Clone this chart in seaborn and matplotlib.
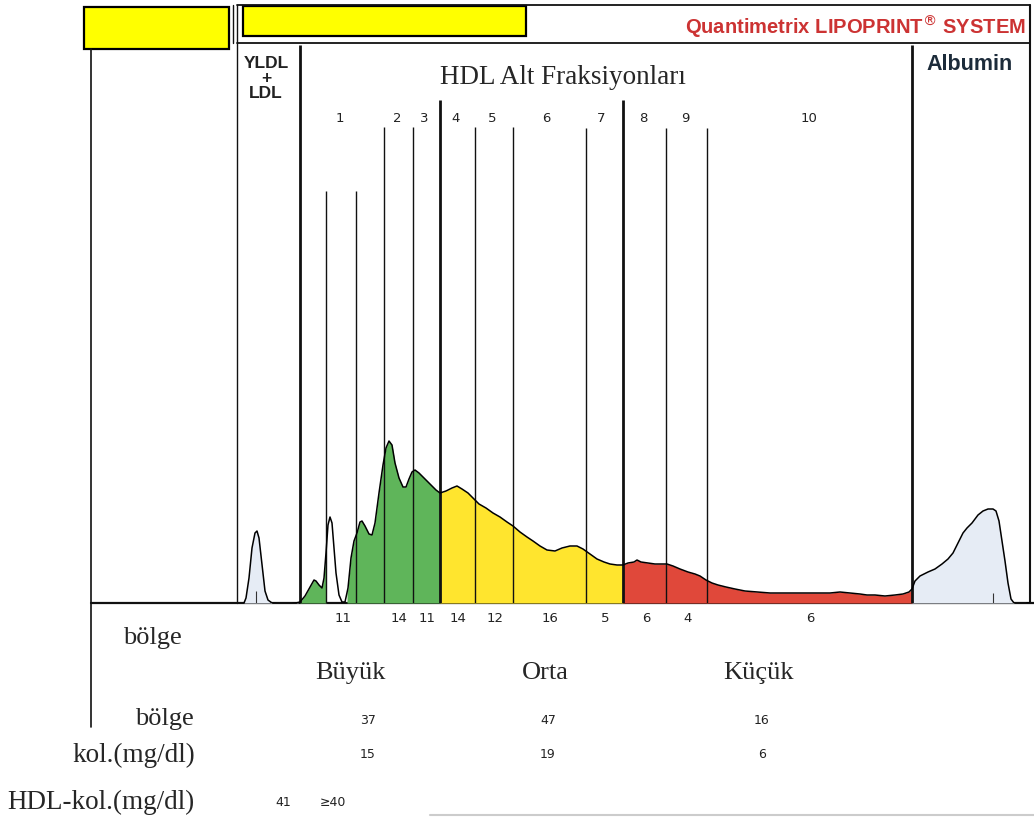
import matplotlib
matplotlib.use('Agg')
import matplotlib.pyplot as plt
import seaborn as sns
import numpy as np
import pandas as pd

# densitometry trace: migration position and signal height
trace_pos = [239, 243, 244, 246, 249, 252, 255, 257, 259, 262, 265, 268, 272, 280, 286, 290, 296,
             300, 305, 310, 314, 316, 319, 322, 324, 326, 328, 330, 332, 334, 336, 339, 342, 345,
             348, 351, 354, 357, 360, 362, 365, 369, 372, 375, 379, 383, 386, 389, 392, 395, 399,
             403, 406, 409, 412, 415, 419, 424, 430, 436, 440, 446, 452, 457, 462, 468, 474, 479,
             486, 493, 500, 507, 513, 520, 527, 533, 540, 547, 555, 562, 570, 577, 583, 590, 597,
             604, 610, 617, 623, 628, 634, 637, 641, 648, 655, 662, 667, 673, 680, 688, 695, 700,
             706, 712, 718, 726, 735, 745, 757, 770, 785, 800, 815, 830, 840, 850, 860, 867, 875,
             885, 895, 903, 909, 912, 915, 920, 928, 935, 942, 948, 953, 958, 963, 967, 972, 978,
             983, 988, 993, 996, 999, 1002, 1005, 1008, 1011, 1014, 1018, 1024, 1027, 1030]
trace_val = [-3, -3, 0, 5, 25, 55, 70, 72, 65, 38, 12, 3, 0, -1, -3, -1, 0,
             1, 7, 16, 23, 22, 18, 15, 25, 50, 78, 86, 80, 55, 30, 8, 1, 1,
             15, 45, 62, 70, 81, 82, 77, 69, 68, 80, 110, 138, 155, 162, 158, 140, 125,
             116, 116, 124, 131, 133, 130, 125, 119, 113, 110, 112, 115, 117, 114, 110, 104, 99,
             95, 90, 86, 81, 77, 71, 66, 62, 57, 53, 52, 55, 57, 57, 54, 49, 44,
             41, 39, 38, 38, 40, 41, 43, 41, 40, 39, 39, 39, 37, 34, 31, 29, 27,
             23, 20, 18, 16, 14, 12, 11, 10, 10, 10, 10, 10, 11, 10, 9, 8, 8,
             7, 8, 9, 11, 14, 22, 27, 31, 34, 39, 44, 50, 60, 70, 75, 80, 88,
             92, 94, 94, 92, 82, 62, 42, 20, 4, 0, -2, -2, 0, 0]

# coloured regions (start, end, colour)
seg_start = [239, 300, 347, 440, 623, 912]
seg_end = [298, 326, 440, 623, 912, 1014]
seg_color = ['#e6ecf5', '#5fb55a', '#5fb55a', '#ffe52e', '#e0483a', '#e6ecf5']

# fraction borders (position, top height, thick)
line_pos = [300, 326, 356, 384, 413, 440, 475, 513, 586, 623, 666, 707, 912]
line_top = [558, 412, 412, 476, 476, 503, 476, 476, 475, 503, 475, 475, 558]
line_thick = [True, False, False, False, False, True, False, False, False, True, False, False, True]

frac_labels = ['1', '2', '3', '4', '5', '6', '7', '8', '9', '10']
frac_label_x = [340, 397, 424, 456, 492, 546, 601, 643, 685, 809]
frac_values = ['11', '14', '11', '14', '12', '16', '5', '6', '4', '6']
frac_value_x = [343, 399, 427, 458, 495, 550, 605, 646, 688, 810]

groups = ['Büyük', 'Orta', 'Küçük']
group_x = [350, 545, 758]
group_pct = ['37', '47', '16']
group_chol = ['15', '19', '6']
group_val_x = [368, 548, 762]

sns.set_style('white')
plt.rcParams['font.family'] = ['DejaVu Sans']

W, H = 1034, 819
fig = plt.figure(figsize=(W / 100, H / 100), dpi=100)

# overlay axes in pixel units for frame and labels
ov = fig.add_axes([0, 0, 1, 1])
ov.set_xlim(0, W)
ov.set_ylim(H, 0)
ov.axis('off')

# trace axes
x0, x1, ybase, ytop = 237, 1030, 603, 43
tax = fig.add_axes([x0 / W, (H - ybase) / H, (x1 - x0) / W, (ybase - ytop) / H])
tax.set_xlim(x0, x1)
tax.set_ylim(0, ybase - ytop)
tax.axis('off')
tax.patch.set_alpha(0)

df = pd.DataFrame({'pos': trace_pos, 'val': trace_val})
pos = np.array(trace_pos, dtype=float)
val = np.array(trace_val, dtype=float)
for s, e, c in zip(seg_start, seg_end, seg_color):
    m = (pos >= s) & (pos <= e)
    xs = np.concatenate([[s], pos[m], [e]])
    ys = np.concatenate([[np.interp(s, pos, val)], val[m], [np.interp(e, pos, val)]])
    tax.fill_between(xs, 0, np.clip(ys, 0, None), color=c, lw=0, zorder=1)

for p, t, th in zip(line_pos, line_top, line_thick):
    tax.vlines(p, 0, t, color='#111111', lw=2.0 if th else 1.0, zorder=3)

sns.lineplot(data=df, x='pos', y='val', ax=tax, color='black', lw=1.1,
             estimator=None, sort=False, zorder=4)
# peak markers
tax.vlines([256, 993], 0, [12, 10], color='#333333', lw=0.8, zorder=4)

# frame
k = '#111111'
ov.plot([237, 1030], [5, 5], color=k, lw=1.3)
ov.plot([237, 1030], [43, 43], color=k, lw=1.3)
ov.plot([1030, 1030], [5, 603], color=k, lw=1.5)
ov.plot([233, 233], [5, 43], color=k, lw=1.0)
ov.plot([236.5, 236.5], [5, 603], color=k, lw=1.0)
ov.plot([91, 1034], [603, 603], color=k, lw=1.6)
ov.plot([91, 91], [49, 727], color=k, lw=1.2)
ov.plot([430, 1034], [815, 815], color='#aaaaaa', lw=1.5, alpha=0.6)

# yellow boxes
ov.add_patch(plt.Rectangle((84, 7), 145, 42, facecolor='#ffff00', edgecolor='black', lw=1.6))
ov.add_patch(plt.Rectangle((243, 6), 283, 30, facecolor='#ffff00', edgecolor='black', lw=1.6))

ov.text(1026, 27, 'Quantimetrix LIPOPRINT$^{\\circledR}$ SYSTEM', ha='right', va='center',
        color='#cc3333', fontsize=14.5, fontweight='bold', family='Liberation Sans')
ov.text(970, 64, 'Albumin', ha='center', va='center', color='#1c2b3a',
        fontsize=15.5, fontweight='bold', family='Liberation Sans')
for t, y in zip(['YLDL', '+', 'LDL'], [63, 79, 94]):
    ov.text(266, y, t, ha='center', va='center', color='#222222', fontsize=12.5,
            fontweight='bold', family='Liberation Sans')
ov.text(563, 84, 'HDL Alt Fraksiyonları', ha='center', va='baseline',
        fontsize=19.5, family='Liberation Serif')

for t, x in zip(frac_labels, frac_label_x):
    ov.text(x, 118, t, ha='center', va='center', fontsize=9.5, color='#222222')
for t, x in zip(frac_values, frac_value_x):
    ov.text(x, 619, t, ha='center', va='center', fontsize=9.5, color='#222222')

ov.text(152, 644, 'bölge', ha='center', va='baseline', fontsize=19, family='Liberation Serif')
for t, x in zip(groups, group_x):
    ov.text(x, 679, t, ha='center', va='baseline', fontsize=19, family='Liberation Serif')
ov.text(194, 725, 'bölge', ha='right', va='baseline', fontsize=19, family='Liberation Serif')
ov.text(195, 762, 'kol.(mg/dl)', ha='right', va='baseline', fontsize=19.5, family='Liberation Serif')
ov.text(195, 809, 'HDL-kol.(mg/dl)', ha='right', va='baseline', fontsize=19.5, family='Liberation Serif')

for a, b, x in zip(group_pct, group_chol, group_val_x):
    ov.text(x, 720, a, ha='center', va='center', fontsize=9, color='#222222')
    ov.text(x, 754, b, ha='center', va='center', fontsize=9, color='#222222')
ov.text(283, 803, '41', ha='center', va='center', fontsize=9, color='#222222')
ov.text(333, 803, '≥40', ha='center', va='center', fontsize=9, color='#222222')

fig.savefig('out.png', dpi=100)
